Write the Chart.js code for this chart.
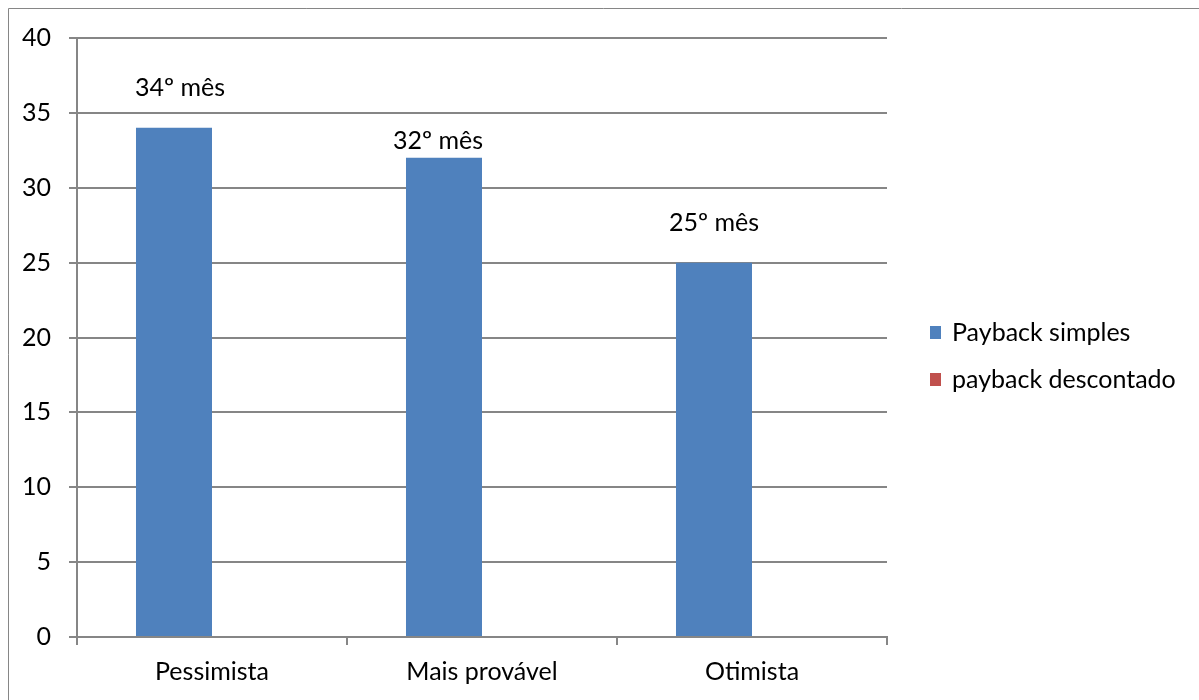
<!DOCTYPE html>
<html>
<head>
<meta charset="utf-8">
<script src="https://cdn.jsdelivr.net/npm/chart.js@4/dist/chart.umd.min.js"></script>
<style>
  html, body { margin: 0; padding: 0; background: #fff; }
  #wrap { width: 1199px; height: 700px; position: relative; }
</style>
</head>
<body>
<div id="wrap"><canvas id="myChart" width="1199" height="700"></canvas></div>
<script>
// dados do gráfico
const cenarios = ['Pessimista', 'Mais provável', 'Otimista'];
const paybackSimples = [34, 32, 25];
const paybackDescontado = [null, null, null];
const rotulos = ['34º mês', '32º mês', '25º mês'];
const yTicks = [0, 5, 10, 15, 20, 25, 30, 35, 40];

// deslocamento manual dos rótulos (como no Excel)
const rotuloShift = [[6, -27], [-6, -4], [0, -27]];

const fonte = 'Lato, "Liberation Sans", sans-serif';
const tamanho = 25;
const cinza = '#868686';

const ctx = document.getElementById('myChart').getContext('2d');

// moldura, rótulos de dados e legenda
const extras = {
    id: 'extras',
    beforeDraw(chart) {
        const c = chart.ctx;
        c.save();
        c.strokeStyle = cinza;
        c.lineWidth = 1;
        c.beginPath();
        c.moveTo(8.5, chart.height);
        c.lineTo(8.5, 8.5);
        c.lineTo(chart.width, 8.5);
        c.stroke();
        c.restore();
    },
    afterDatasetsDraw(chart) {
        const c = chart.ctx;
        const meta = chart.getDatasetMeta(0);
        c.save();
        c.font = tamanho + 'px ' + fonte;
        c.fillStyle = '#000';
        c.textAlign = 'center';
        c.textBaseline = 'bottom';
        meta.data.forEach((bar, i) => {
            c.fillText(rotulos[i], bar.x + rotuloShift[i][0], bar.y + rotuloShift[i][1]);
        });

        // legenda
        const x0 = chart.chartArea.right + 43;
        const ys = [333, 380];
        c.textAlign = 'left';
        c.textBaseline = 'middle';
        chart.data.datasets.forEach((ds, i) => {
            c.fillStyle = ds.backgroundColor;
            c.fillRect(x0, ys[i] - 7, 11, 13);
            c.fillStyle = '#000';
            c.fillText(ds.label, x0 + 22, ys[i]);
        });
        c.restore();
    }
};

new Chart(ctx, {
    type: 'bar',
    data: {
        labels: cenarios,
        datasets: [{
            label: 'Payback simples',
            data: paybackSimples,
            backgroundColor: '#4F81BD'
        }, {
            label: 'payback descontado',
            data: paybackDescontado,
            backgroundColor: '#C0504D'
        }]
    },
    options: {
        responsive: false,
        animation: false,
        devicePixelRatio: 1,
        layout: { padding: { left: 0, top: 38, right: 312, bottom: 0 } },
        datasets: {
            bar: { categoryPercentage: 0.563, barPercentage: 1 }
        },
        plugins: {
            legend: { display: false },
            tooltip: { enabled: false }
        },
        scales: {
            x: {
                grid: { offset: true, drawOnChartArea: false, drawTicks: true, tickLength: 8, color: cinza, lineWidth: 2 },
                border: { color: cinza, width: 2 },
                ticks: { font: { family: fonte, size: tamanho }, color: '#000', padding: 12 },
                afterFit: s => { s.height = 63; }
            },
            y: {
                min: 0,
                max: 40,
                afterBuildTicks: s => { s.ticks = yTicks.map(v => ({ value: v })); },
                grid: { color: cinza, lineWidth: 2, tickLength: 8 },
                border: { color: cinza, width: 2 },
                ticks: { font: { family: fonte, size: tamanho }, color: '#000', padding: 18 },
                afterFit: s => { s.width = 77; }
            }
        }
    },
    plugins: [extras]
});
</script>
</body>
</html>
